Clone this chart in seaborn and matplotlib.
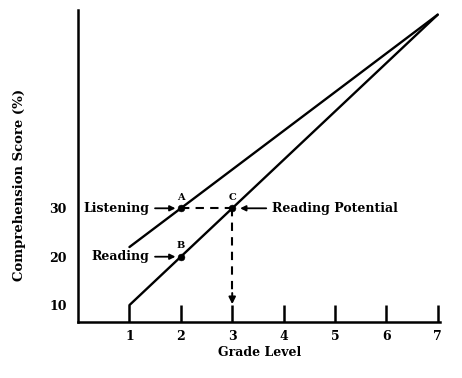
import matplotlib
matplotlib.use("Agg")
import matplotlib.pyplot as plt
import seaborn as sns
import pandas as pd

# datos
grados = [1, 2, 3, 4, 5, 6, 7]
lectura_x = [1, 7]
lectura_y = [10, 70]
escucha_x = [1, 7]
escucha_y = [22, 70]
puntos = ["A", "B", "C"]
puntos_x = [2, 2, 3]
puntos_y = [30, 20, 30]
yticks = [10, 20, 30]

sns.set_style("ticks")
plt.rcParams["font.family"] = ["DejaVu Serif"]
plt.rcParams["font.weight"] = "bold"
plt.rcParams["text.color"] = "black"
plt.rcParams["axes.labelcolor"] = "black"
plt.rcParams["xtick.color"] = "black"
plt.rcParams["ytick.color"] = "black"
plt.rcParams["axes.edgecolor"] = "black"

fig, ax = plt.subplots(figsize=(4.62, 3.78), dpi=100)
fig.subplots_adjust(left=0.169, right=0.953, bottom=0.148, top=0.974)

df_lec = pd.DataFrame({"grado": lectura_x, "score": lectura_y})
df_esc = pd.DataFrame({"grado": escucha_x, "score": escucha_y})
df_pts = pd.DataFrame({"grado": puntos_x, "score": puntos_y, "p": puntos})

sns.lineplot(data=df_lec, x="grado", y="score", color="black", lw=1.7, ax=ax)
sns.lineplot(data=df_esc, x="grado", y="score", color="black", lw=1.7, ax=ax)
sns.scatterplot(data=df_pts, x="grado", y="score", color="black", s=24,
                edgecolor="black", zorder=5, ax=ax)

# lineas punteadas A -> C y C -> eje
ax.plot([2, 3], [30, 30], color="black", lw=1.5, ls=(0, (4, 3)))
ax.plot([3, 3], [30, 12], color="black", lw=1.5, ls=(0, (4, 3)))
ax.annotate("", xy=(3, 10.2), xytext=(3, 12.5),
            arrowprops=dict(arrowstyle="-|>", color="black", lw=1.4,
                            mutation_scale=10, shrinkA=0, shrinkB=0))

# letras de los puntos
for p, x, y in zip(puntos, puntos_x, puntos_y):
    ax.text(x, y + 1.4, p, fontsize=7, ha="center", va="bottom",
            fontweight="bold")

flecha = dict(arrowstyle="-|>", color="black", lw=1.3, mutation_scale=8,
              shrinkA=2, shrinkB=2)
ax.annotate("Listening", xy=(1.95, 30), xytext=(1.38, 30), fontsize=9,
            ha="right", va="center", fontweight="bold", arrowprops=flecha)
ax.annotate("Reading", xy=(1.95, 20), xytext=(1.38, 20), fontsize=9,
            ha="right", va="center", fontweight="bold", arrowprops=flecha)
ax.annotate("Reading Potential", xy=(3.1, 30), xytext=(3.78, 30), fontsize=9,
            ha="left", va="center", fontweight="bold", arrowprops=flecha)

ax.set_xlim(0, 7.05)
ax.set_ylim(6.5, 71)
ax.set_xticks(grados)
ax.set_yticks(yticks)
ax.tick_params(axis="x", direction="in", length=12, width=1.8, labelsize=9, pad=6)
ax.tick_params(axis="y", length=0, labelsize=9, pad=8)
ax.set_xlabel("Grade Level", fontsize=9, fontweight="bold", labelpad=2)
ax.set_ylabel("Comprehension Score (%)", fontsize=9.5, fontweight="bold")
ax.yaxis.set_label_coords(-0.145, 0.44)
sns.despine(ax=ax)
ax.spines["left"].set_linewidth(1.8)
ax.spines["bottom"].set_linewidth(1.8)

fig.savefig("out.png", dpi=100)
